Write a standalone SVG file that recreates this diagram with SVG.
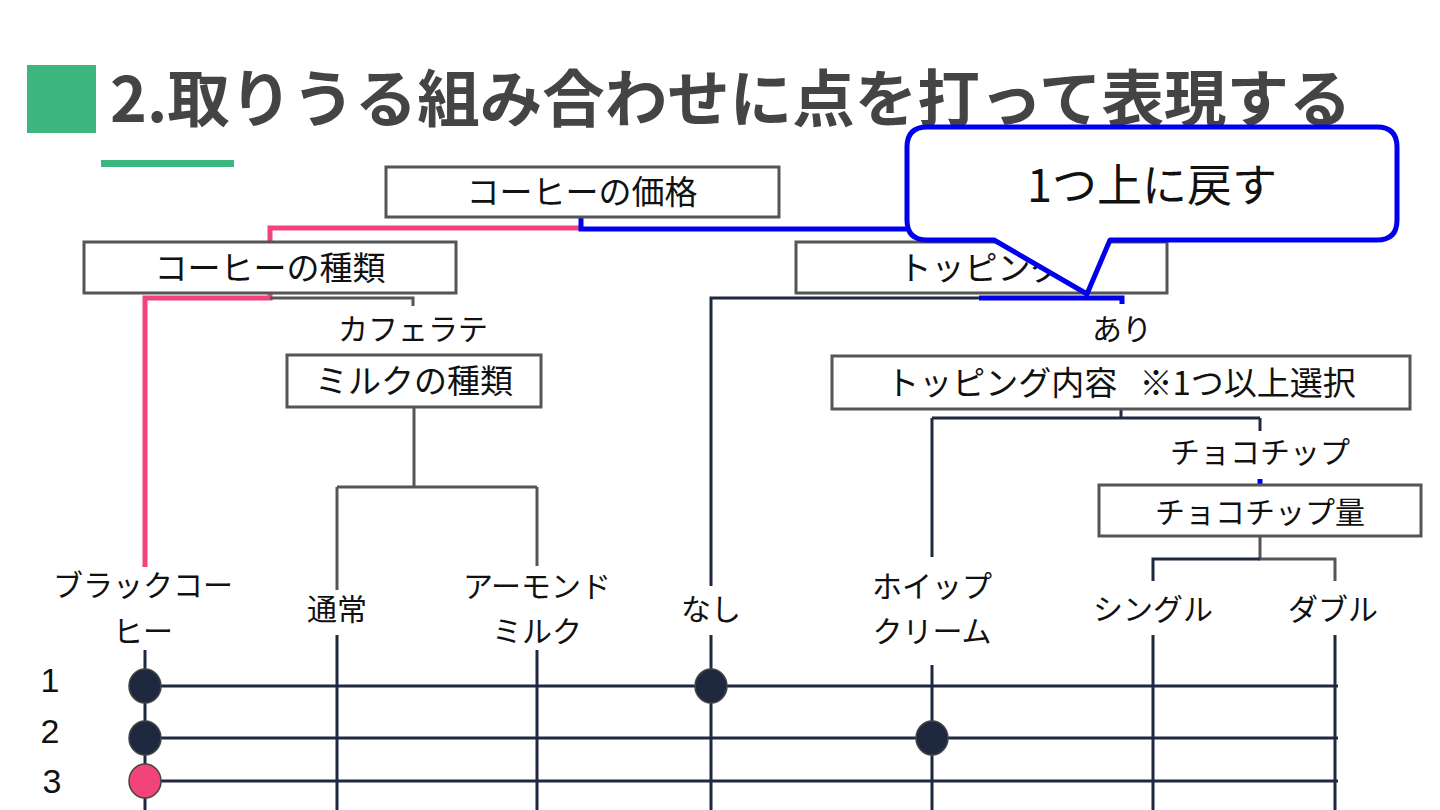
<svg xmlns="http://www.w3.org/2000/svg" width="1440" height="810" viewBox="0 0 1440 810">
<style>
.t{font-family:"Noto Sans CJK JP","Liberation Sans",sans-serif;font-size:30px;fill:#111;text-anchor:middle}
.bt{font-size:33px}
.bx{fill:#fff;stroke:#555;stroke-width:3}
.g{fill:none;stroke:#555;stroke-width:3}
.n{fill:none;stroke:#1e2940;stroke-width:3}
.p{fill:none;stroke:#f2437a;stroke-width:5}
.b{fill:none;stroke:#0000ee;stroke-width:5}
.num{font-family:"Liberation Sans",sans-serif;font-size:34px;fill:#111;text-anchor:middle}
.dot{fill:#1e2940;stroke:#444;stroke-width:1.5}
</style>
<rect width="1440" height="810" fill="#fff"/>
<g id="title">
<rect x="27" y="65" width="69" height="68" fill="#3db57e"/>
<text x="110" y="122" font-family="'Noto Sans CJK JP','Liberation Sans',sans-serif" font-size="62.5" font-weight="bold" fill="#444">2.取りうる組み合わせに点を打って表現する</text>
<rect x="101" y="160" width="133" height="7" fill="#3db57e"/>
</g>
<g id="connectors">
<path class="p" d="M581 228 H270 V241"/>
<path class="p" d="M270 293 V298 H145 V567"/>
<path class="b" d="M581 217 V229 H910"/>
<path class="g" d="M270 298 H413 V306"/>
<path class="g" d="M414 407 V487"/>
<path class="g" d="M337 487 H537"/>
<path class="g" d="M337 487 V590"/>
<path class="g" d="M537 487 V566"/>
<path class="n" d="M981 298 H711 V586"/>
<path class="b" d="M979 298 H1122 V304"/>
<path class="n" d="M1121 409 V418"/>
<path class="n" d="M932 418 H1260"/>
<path class="n" d="M932 418 V557"/>
<path class="n" d="M1260 418 V431"/>
<path class="b" d="M1260 479 V485" stroke-width="4"/>
<path class="g" d="M1260 536 V559 H1335 V581"/>
<path class="n" d="M1260 559 H1153 V581"/>
<path class="n" d="M145 650 V810 M337 635 V810 M537 650 V810 M711 635 V810 M932 665 V810 M1153 635 V810 M1335 635 V810"/>
<path class="n" d="M145 686 H1338 M145 738 H1338 M145 781 H1338"/>
</g>
<g id="node-price"><rect class="bx" x="386" y="167" width="393" height="50"/><text class="t bt" x="582" y="204">コーヒーの価格</text></g>
<g id="node-coffee-type"><rect class="bx" x="84" y="242" width="372" height="51"/><text class="t bt" x="270" y="280">コーヒーの種類</text></g>
<g id="node-topping"><rect class="bx" x="796" y="242" width="371" height="51"/><text class="t bt" x="981" y="280">トッピング</text></g>
<g id="label-latte"><text class="t" x="413" y="340">カフェラテ</text></g>
<g id="node-milk"><rect class="bx" x="287" y="355" width="254" height="52"/><text class="t bt" x="414" y="393">ミルクの種類</text></g>
<g id="label-ari"><text class="t" x="1122" y="340">あり</text></g>
<g id="node-topping-content"><rect class="bx" x="832" y="356" width="578" height="53"/><text class="t bt" x="1121" y="395" xml:space="preserve">トッピング内容   ※1つ以上選択</text></g>
<g id="label-choco"><text class="t" x="1260" y="463">チョコチップ</text></g>
<g id="node-choco-amount"><rect class="bx" x="1099" y="485" width="322" height="51"/><text class="t" x="1260" y="523" font-size="32">チョコチップ量</text></g>
<g id="leaf-black"><text class="t" x="143" y="596">ブラックコー</text><text class="t" x="143" y="642">ヒー</text></g>
<g id="leaf-normal"><text class="t" x="337" y="620">通常</text></g>
<g id="leaf-almond"><text class="t" x="537" y="597">アーモンド</text><text class="t" x="537" y="642">ミルク</text></g>
<g id="leaf-none"><text class="t" x="711" y="620">なし</text></g>
<g id="leaf-whip"><text class="t" x="932" y="597">ホイップ</text><text class="t" x="932" y="642">クリーム</text></g>
<g id="leaf-single"><text class="t" x="1153" y="620">シングル</text></g>
<g id="leaf-double"><text class="t" x="1333" y="620">ダブル</text></g>
<g id="rows">
<text class="num" x="50" y="692">1</text>
<text class="num" x="50" y="743">2</text>
<text class="num" x="52" y="793">3</text>
<ellipse class="dot" cx="145" cy="686" rx="16" ry="17"/>
<ellipse class="dot" cx="711" cy="686" rx="16" ry="17"/>
<ellipse class="dot" cx="145" cy="738" rx="16" ry="17"/>
<ellipse class="dot" cx="932" cy="738" rx="16" ry="17"/>
<ellipse class="dot" cx="145" cy="781" rx="16" ry="17" style="fill:#f2437a"/>
</g>
<g id="callout">
<path d="M927 127 H1377 Q1397 127 1397 147 V220 Q1397 240 1377 240 H1110 L1087 294 L994 240 H927 Q907 240 907 220 V147 Q907 127 927 127 Z" fill="#fff" stroke="#0000ee" stroke-width="5" stroke-linejoin="round"/>
<text x="1152" y="202" font-family="'Noto Sans CJK JP','Liberation Sans',sans-serif" font-size="45" fill="#111" text-anchor="middle">1つ上に戻す</text>
</g>
</svg>
